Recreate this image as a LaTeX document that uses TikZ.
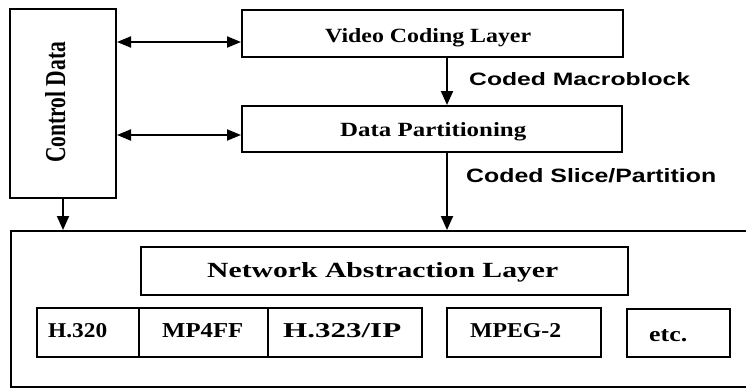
\documentclass[tikz,border=0pt]{standalone}
\usepackage{fontspec}
\usepackage{graphicx}
\setmainfont{Liberation Serif}
\newfontfamily\labfont{Liberation Sans}
\usetikzlibrary{arrows.meta,calc}

% set a label to an exact width and height (in pt)
\newcommand{\fitbox}[3]{\resizebox{#1pt}{#2pt}{#3}}

\tikzset{
  box/.style={draw=black, line width=2pt, inner sep=0pt, fill=white},
  boxtxt/.style={inner sep=0pt, anchor=base west, font=\bfseries},
  flowtxt/.style={inner sep=0pt, anchor=base west, font=\labfont\bfseries},
  arr/.style={line width=2pt, -{Triangle[length=14pt,width=12pt]}},
  dbl/.style={line width=2pt, {Triangle[length=14pt,width=11pt]}-{Triangle[length=14pt,width=11pt]}},
}

\begin{document}
\begin{tikzpicture}[x=1pt,y=-1pt]
\useasboundingbox (0,0) rectangle (746,388);
\fill[white] (0,0) rectangle (746,388);

% outer transport frame (runs off the right edge)
\node[box, minimum width=789pt, minimum height=156pt] (net) at (405.5,309) {};

% left control column and the two coding layers
\node[box, minimum width=106pt, minimum height=189pt] (cd) at (63,103.5) {};
\node[box, minimum width=381pt, minimum height=47pt] (vcl) at (432.5,33.5) {};
\node[box, minimum width=380pt, minimum height=46pt] (dp) at (432,129) {};

% network abstraction layer and the transport formats below it
\node[box, minimum width=487pt, minimum height=48pt] (nal) at (384.5,271) {};
\node[box, minimum width=102pt, minimum height=49pt] (h320) at (88,332.5) {};
\node[box, minimum width=129pt, minimum height=49pt] (mp4) at (203.5,332.5) {};
\node[box, minimum width=154pt, minimum height=49pt] (h323) at (345,332.5) {};
\node[box, minimum width=154pt, minimum height=49pt] (mpeg) at (524,332.5) {};
\node[box, minimum width=103pt, minimum height=48pt] (etc) at (678.5,333) {};

% box labels
\node[boxtxt, rotate=90] (cdT) at (65,163) {\fitbox{121}{20}{Control Data}};
\node[boxtxt] (vclT) at (325,42) {\fitbox{206}{14}{Video Coding Layer}};
\node[boxtxt] (dpT) at (340,136) {\fitbox{186}{14}{Data Partitioning}};
\node[boxtxt] (nalT) at (207,277) {\fitbox{351}{15}{Network Abstraction Layer}};
\node[boxtxt] (h320T) at (48,337) {\fitbox{59}{14}{H.320}};
\node[boxtxt] (mp4T) at (162,337) {\fitbox{81}{14}{MP4FF}};
\node[boxtxt] (h323T) at (283,337) {\fitbox{118}{14}{H.323/IP}};
\node[boxtxt] (mpegT) at (470,337) {\fitbox{91}{14}{MPEG-2}};
\node[boxtxt] (etcT) at (649,341) {\fitbox{38}{12}{etc.}};

% control links
\coordinate (c1) at ([yshift=-8.5pt]vcl.west);
\coordinate (c2) at ([yshift=-6pt]dp.west);
\draw[dbl] (c1 -| cd.east) -- (c1);
\draw[dbl] (c2 -| cd.east) -- (c2);

% data flow down the stack
\coordinate (f1) at ([xshift=14.5pt]vcl.south);
\coordinate (f2) at ([xshift=15pt]dp.south);
\draw[arr] (f1) -- (f1 |- dp.north);
\draw[arr] (f2) -- (f2 |- net.north);
\draw[arr] (cd.south) -- (cd.south |- net.north);

% flow labels
\node[flowtxt] (mbT) at (469,85) {\fitbox{221}{13}{Coded Macroblock}};
\node[flowtxt] (spT) at (466,182) {\fitbox{250}{14}{Coded Slice/Partition}};
\end{tikzpicture}
\end{document}
